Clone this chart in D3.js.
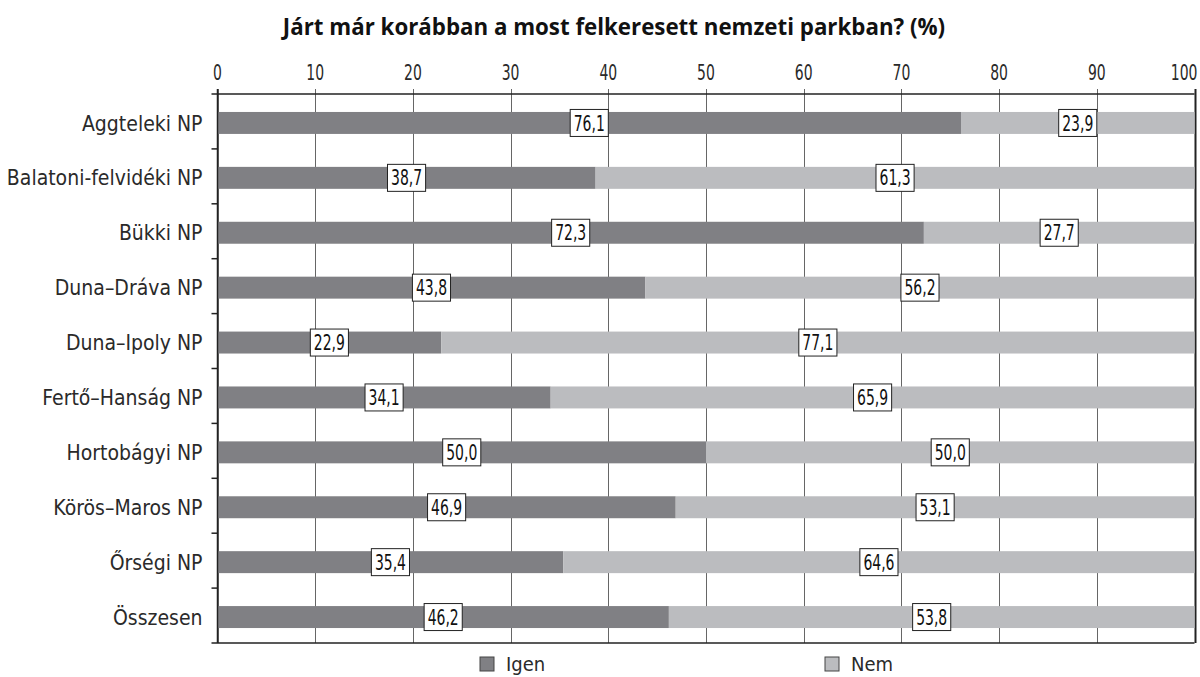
<!DOCTYPE html>
<html>
<head>
<meta charset="utf-8">
<script src="https://cdn.jsdelivr.net/npm/d3@7"></script>
<style>
  body { margin: 0; background: #fff; }
  svg { display: block; }
  text { font-family: "DejaVu Sans Condensed", "DejaVu Sans", sans-serif; font-stretch: condensed; fill: #2a2a2a; }
</style>
</head>
<body>
<svg width="1200" height="677"></svg>
<script>
const categories = ["Aggteleki NP", "Balatoni-felvidéki NP", "Bükki NP", "Duna–Dráva NP", "Duna–Ipoly NP",
  "Fertő–Hanság NP", "Hortobágyi NP", "Körös–Maros NP", "Őrségi NP", "Összesen"];
const igen = [76.1, 38.7, 72.3, 43.8, 22.9, 34.1, 50.0, 46.9, 35.4, 46.2];
const nem = [23.9, 61.3, 27.7, 56.2, 77.1, 65.9, 50.0, 53.1, 64.6, 53.8];
const xTicks = [0, 10, 20, 30, 40, 50, 60, 70, 80, 90, 100];
const seriesNames = ["Igen", "Nem"];

const colors = { Igen: "#808084", Nem: "#bbbcbf" };

const svg = d3.select("svg");

const plotLeft = 217.5, plotRight = 1194.5, plotTop = 94, plotBottom = 643;
const numSquash = 0.74;   // the source font has very narrow digits

const x = d3.scaleLinear().domain([0, 100]).range([plotLeft, plotRight]);

// band for the rows, and one without padding for the tick marks
const yRow = d3.scaleBand().domain(categories).range([plotTop, plotBottom]);
const y = d3.scaleBand().domain(categories).range([plotTop, plotBottom])
  .paddingInner(0.6).paddingOuter(0.3);

const fmt = v => d3.format(".1f")(v).replace(".", ",");

// title
svg.append("text")
  .attr("x", 614)
  .attr("y", 35)
  .attr("text-anchor", "middle")
  .style("font-family", "'Open Sans', 'Noto Sans', sans-serif")
  .style("font-stretch", "normal")
  .style("font-weight", "bold")
  .style("font-size", "22.3px")
  .style("fill", "#111")
  .text("Járt már korábban a most felkeresett nemzeti parkban? (%)");

// gridlines + top tick labels
const grid = svg.append("g");
grid.selectAll("line")
  .data(xTicks)
  .join("line")
    .attr("x1", d => Math.round(x(d)) + 0.5)
    .attr("x2", d => Math.round(x(d)) + 0.5)
    .attr("y1", plotTop - 5)
    .attr("y2", plotBottom)
    .attr("stroke", d => d === 100 ? "#222" : "#666")
    .attr("stroke-width", d => d === 100 ? 2 : 1);

grid.selectAll("text")
  .data(xTicks)
  .join("text")
    .attr("transform", d => `translate(${d === 100 ? x(d) + 3 : x(d)},${plotTop - 14}) scale(${numSquash},1)`)
    .attr("text-anchor", d => d === 100 ? "end" : "middle")
    .style("font-size", "21px")
    .text(d => d);

// rows of stacked bars
const rows = svg.append("g")
  .selectAll("g")
  .data(categories.map((c, i) => ({ cat: c, igen: igen[i], nem: nem[i] })))
  .join("g")
    .attr("transform", d => `translate(0,${y(d.cat) + 1.5})`);

rows.append("rect")
  .attr("x", x(0))
  .attr("width", d => x(d.igen) - x(0))
  .attr("height", y.bandwidth())
  .attr("fill", colors.Igen);

rows.append("rect")
  .attr("x", d => x(d.igen))
  .attr("width", d => x(d.igen + d.nem) - x(d.igen))
  .attr("height", y.bandwidth())
  .attr("fill", colors.Nem);

// value labels in small white boxes
function addLabel(sel, pos, val) {
  const g = sel.append("g")
    .attr("transform", d => `translate(${x(pos(d))},${y.bandwidth() / 2})`);
  g.append("text")
    .attr("transform", `scale(${numSquash},1)`)
    .attr("text-anchor", "middle")
    .attr("dy", "0.36em")
    .style("font-size", "21px")
    .style("fill", "#111")
    .text(d => fmt(val(d)));
  g.insert("rect", "text")
    .each(function() {
      const w = this.parentNode.querySelector("text").getBBox().width * numSquash + 7;
      d3.select(this)
        .attr("x", -w / 2)
        .attr("width", w);
    })
    .attr("y", -13.5)
    .attr("height", 27)
    .attr("fill", "#fff")
    .attr("stroke", "#222")
    .attr("stroke-width", 1);
}
addLabel(rows, d => d.igen / 2, d => d.igen);
addLabel(rows, d => d.igen + d.nem / 2, d => d.nem);

// axes frame
const frame = svg.append("g").attr("stroke", "#222").attr("stroke-width", 1.5);
frame.append("line").attr("x1", plotLeft - 6).attr("x2", plotRight).attr("y1", plotTop).attr("y2", plotTop);
frame.append("line").attr("x1", plotLeft - 6).attr("x2", plotRight).attr("y1", plotBottom).attr("y2", plotBottom);
frame.append("line").attr("x1", plotLeft).attr("x2", plotLeft).attr("y1", plotTop - 5).attr("y2", plotBottom);
frame.selectAll(".tk")
  .data(categories.slice(1))
  .join("line")
    .attr("x1", plotLeft - 6)
    .attr("x2", plotLeft)
    .attr("y1", d => yRow(d))
    .attr("y2", d => yRow(d));

// category labels
svg.append("g")
  .selectAll("text")
  .data(categories)
  .join("text")
    .attr("x", plotLeft - 15)
    .attr("y", d => y(d) + 1.5 + y.bandwidth() / 2)
    .attr("dy", "0.36em")
    .attr("text-anchor", "end")
    .style("font-size", "21px")
    .text(d => d);

// legend
const legend = svg.append("g")
  .selectAll("g")
  .data(seriesNames)
  .join("g")
    .attr("transform", (d, i) => `translate(${[480, 825][i]},657)`);

legend.append("rect")
  .attr("width", 14)
  .attr("height", 14)
  .attr("fill", d => colors[d])
  .attr("stroke", "#444")
  .attr("stroke-width", 1);

legend.append("text")
  .attr("x", 26)
  .attr("y", 7)
  .attr("dy", "0.34em")
  .style("font-size", "20px")
  .text(d => d);
</script>
</body>
</html>
